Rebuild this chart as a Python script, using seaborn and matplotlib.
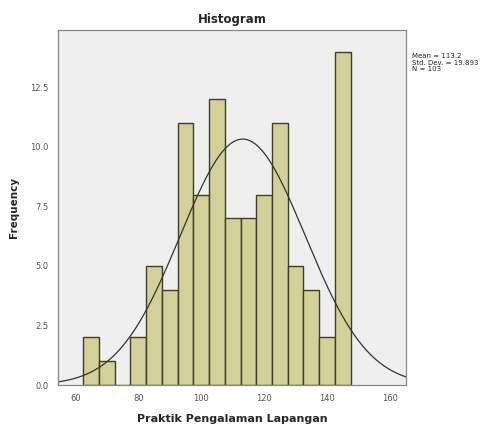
import numpy as np
import pandas as pd
import matplotlib
matplotlib.use("Agg")
import matplotlib.pyplot as plt
import seaborn as sns

# bins (width 5)
bin_edges = [62.5, 67.5, 72.5, 77.5, 82.5, 87.5, 92.5, 97.5, 102.5, 107.5,
             112.5, 117.5, 122.5, 127.5, 132.5, 137.5, 142.5, 147.5]
counts = [2, 1, 0, 2, 5, 4, 11, 8, 12, 7, 7, 8, 11, 5, 4, 2, 14]

mean_val = 113.2
std_val = 19.893
n_val = 103

x_ticks = [60, 80, 100, 120, 140, 160]
y_ticks = [0.0, 2.5, 5.0, 7.5, 10.0, 12.5]

centers = [(a + b) / 2 for a, b in zip(bin_edges[:-1], bin_edges[1:])]
df = pd.DataFrame({"nilai": centers, "frekuensi": counts})

sns.set_style("white")
fig = plt.figure(figsize=(4.9, 4.25), dpi=100)
ax = fig.add_axes([0.118, 0.094, 0.711, 0.835])
ax.set_facecolor("#efefef")

sns.histplot(data=df, x="nilai", weights="frekuensi", bins=bin_edges,
             color="#d4d09a", edgecolor="#3f3d28", linewidth=1.0, alpha=1, ax=ax)

# kurva normal
xs = np.linspace(54, 166, 300)
bw = bin_edges[1] - bin_edges[0]
ys = n_val * bw / (std_val * np.sqrt(2 * np.pi)) * np.exp(-0.5 * ((xs - mean_val) / std_val) ** 2)
ax.plot(xs, ys, color="#333333", linewidth=0.9)

ax.set_xlim(54.4, 165.2)
ax.set_ylim(0, 14.9)
ax.set_xticks(x_ticks)
ax.set_yticks(y_ticks)
ax.set_yticklabels([f"{v:.1f}" for v in y_ticks])
ax.tick_params(axis="both", labelsize=6, labelcolor="#555555", length=3, width=0.8,
               color="#555555", direction="out")
for s in ax.spines.values():
    s.set_color("#888888")
    s.set_linewidth(0.9)

ax.set_xlabel("Praktik Pengalaman Lapangan", fontsize=8, fontweight="bold", labelpad=8)
ax.set_ylabel("Frequency", fontsize=7.5, fontweight="bold", labelpad=8)
ax.set_title("Histogram", fontsize=8.5, fontweight="bold", pad=5)

fig.text(0.84, 0.875, f"Mean = {mean_val}\nStd. Dev. = {std_val}\nN = {n_val}",
         fontsize=5, va="top", ha="left", linespacing=1.1)

plt.savefig("out.png", dpi=100)
